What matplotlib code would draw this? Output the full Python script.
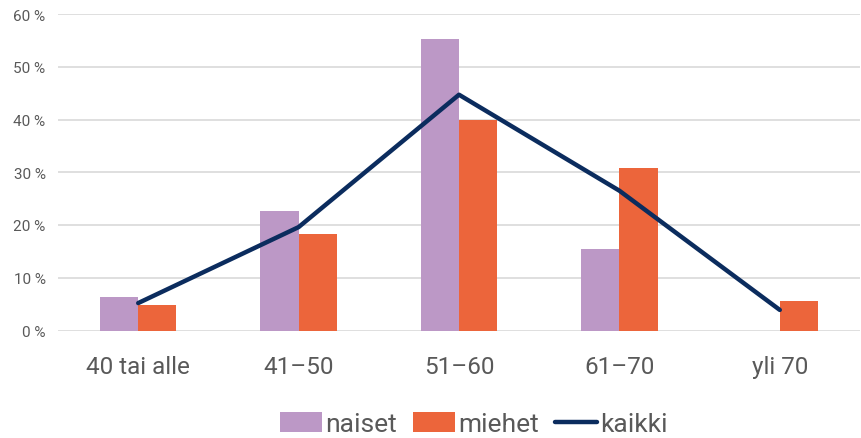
import matplotlib
matplotlib.use("Agg")
import matplotlib.pyplot as plt
import numpy as np

categories = ["40 tai alle", "41–50", "51–60", "61–70", "yli 70"]
naiset = [6.3, 22.7, 55.2, 15.5, 0.0]
miehet = [4.8, 18.3, 39.9, 30.8, 5.6]
kaikki = [5.2, 19.6, 44.7, 26.5, 3.9]
yticks = [0, 10, 20, 30, 40, 50, 60]
ytick_labels = ["0 %", "10 %", "20 %", "30 %", "40 %", "50 %", "60 %"]

font = "Roboto"
c_nai = "#BC98C6"
c_mie = "#EC653B"
c_kai = "#0B2C5E"
txt = "#595959"

fig = plt.figure(figsize=(8.61, 4.39), dpi=100)
ax = fig.add_axes([58/861, 1-331.5/439, (860-58)/861, (331.5-15)/439])

x = np.arange(len(categories))
w = 0.238
b1 = ax.bar(x - w/2, naiset, w, color=c_nai, label="naiset", zorder=2)
b2 = ax.bar(x + w/2, miehet, w, color=c_mie, label="miehet", zorder=2)
l1, = ax.plot(x, kaikki, color=c_kai, lw=3.2, label="kaikki", zorder=3, solid_capstyle="round")

ax.set_xlim(-0.5, len(categories) - 0.5)
ax.set_ylim(0, 60)
ax.set_yticks(yticks)
ax.set_yticklabels(ytick_labels, fontsize=11, color=txt, family=font)
ax.set_xticks(x)
ax.set_xticklabels(categories, fontsize=17.5, color=txt, family=font)
ax.tick_params(axis="both", length=0)
ax.tick_params(axis="y", pad=9)
ax.tick_params(axis="x", pad=18)
ax.grid(axis="y", color="#D9D9D9", lw=1.2, zorder=0)
for s in ax.spines.values():
    s.set_visible(False)

leg = fig.legend(handles=[b1, b2, l1], labels=["naiset", "miehet", "kaikki"],
                 loc="lower center", bbox_to_anchor=(0.55, -0.05), ncol=3, frameon=False,
                 prop={"family": font, "size": 19}, handlelength=1.6, handletextpad=0.12,
                 columnspacing=0.6, handleheight=0.8)
for t in leg.get_texts():
    t.set_color(txt)

fig.savefig("out.png", dpi=100)
